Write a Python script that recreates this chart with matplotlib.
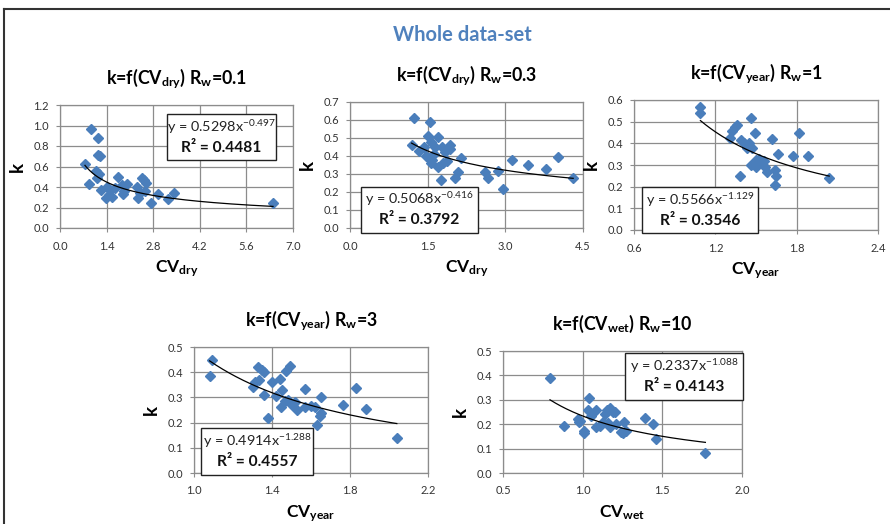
import matplotlib
matplotlib.use("Agg")
import matplotlib.pyplot as plt
import numpy as np
from matplotlib.patches import Rectangle
from matplotlib.lines import Line2D

plt.rcParams['font.family'] = ['Lato', 'DejaVu Sans']
plt.rcParams['mathtext.fontset'] = 'custom'
plt.rcParams['mathtext.rm'] = 'Lato'
plt.rcParams['mathtext.bf'] = 'Lato:bold'
plt.rcParams['mathtext.it'] = 'Lato:italic'
plt.rcParams['mathtext.sf'] = 'Lato'

# ---------------- data ----------------
suptitle = "Whole data-set"

# Panel 1: k = f(CV_dry), Rw = 0.1
x1 = [0.92, 1.15, 1.15, 1.19, 0.75, 0.87, 1.08, 1.18, 1.12, 1.22, 1.40, 1.37, 1.47, 1.55,
      1.50, 1.75, 1.66, 1.85, 1.90, 2.02, 1.92, 2.30, 2.35, 2.40, 2.45, 2.52, 2.58, 2.55,
      2.72, 2.94, 3.25, 3.43, 6.40]
y1 = [0.97, 0.88, 0.71, 0.70, 0.62, 0.43, 0.56, 0.53, 0.49, 0.37, 0.40, 0.29, 0.32, 0.30,
      0.37, 0.50, 0.39, 0.42, 0.33, 0.43, 0.36, 0.40, 0.29, 0.34, 0.49, 0.47, 0.44, 0.36,
      0.24, 0.33, 0.28, 0.34, 0.24]
a1, b1, r2_1 = 0.5298, -0.497, 0.4481

# Panel 2: k = f(CV_dry), Rw = 0.3
x2 = [1.24, 1.54, 1.19, 1.34, 1.43, 1.50, 1.57, 1.69, 1.64, 1.53, 1.59, 1.78, 1.83, 1.93,
      1.93, 1.70, 1.87, 1.76, 2.14, 2.03, 2.09, 2.60, 2.66, 2.86, 2.96, 3.12, 3.44, 3.79,
      4.02, 4.31, 1.62, 1.80, 1.57, 1.47]
y2 = [0.61, 0.59, 0.46, 0.43, 0.45, 0.51, 0.48, 0.505, 0.45, 0.39, 0.38, 0.45, 0.42, 0.46,
      0.44, 0.34, 0.37, 0.265, 0.39, 0.28, 0.31, 0.31, 0.275, 0.315, 0.215, 0.38, 0.35,
      0.325, 0.395, 0.28, 0.41, 0.36, 0.36, 0.40]
a2, b2, r2_2 = 0.5068, -0.416, 0.3792

# Panel 3: k = f(CV_year), Rw = 1
x3 = [1.09, 1.09, 1.46, 1.345, 1.36, 1.325, 1.49, 1.31, 1.39, 1.41, 1.45, 1.43, 1.47, 1.62,
      1.82, 1.38, 1.46, 1.50, 1.50, 1.54, 1.57, 1.58, 1.64, 1.65, 1.64, 1.66, 1.77, 1.88,
      2.04, 1.52, 1.56]
y3 = [0.57, 0.54, 0.515, 0.477, 0.485, 0.455, 0.446, 0.426, 0.415, 0.40, 0.40, 0.377, 0.377,
      0.418, 0.45, 0.249, 0.30, 0.323, 0.29, 0.31, 0.29, 0.27, 0.277, 0.25, 0.21, 0.35,
      0.34, 0.34, 0.24, 0.33, 0.32]
a3, b3, r2_3 = 0.5566, -1.129, 0.3546

# Panel 4: k = f(CV_year), Rw = 3
x4 = [1.09, 1.08, 1.30, 1.33, 1.35, 1.36, 1.335, 1.36, 1.38, 1.40, 1.42, 1.44, 1.45, 1.47,
      1.49, 1.445, 1.48, 1.50, 1.52, 1.53, 1.57, 1.57, 1.62, 1.65, 1.63, 1.645, 1.65, 1.765,
      1.83, 1.88, 2.04, 1.315, 1.465, 1.60]
y4 = [0.448, 0.385, 0.34, 0.42, 0.41, 0.40, 0.369, 0.31, 0.22, 0.362, 0.307, 0.372, 0.33,
      0.405, 0.426, 0.26, 0.29, 0.27, 0.28, 0.25, 0.333, 0.26, 0.26, 0.30, 0.19, 0.225, 0.24,
      0.27, 0.337, 0.254, 0.139, 0.36, 0.284, 0.265]
a4, b4, r2_4 = 0.4914, -1.288, 0.4557

# Panel 5: k = f(CV_wet), Rw = 10
x5 = [0.795, 0.883, 0.97, 0.985, 0.975, 1.01, 1.01, 1.04, 1.035, 1.05, 1.084, 1.11, 1.15,
      1.17, 1.19, 1.14, 1.17, 1.21, 1.255, 1.26, 1.24, 1.39, 1.44, 1.46, 1.77, 1.085, 1.13,
      1.20, 1.275, 1.16]
y5 = [0.388, 0.194, 0.22, 0.215, 0.21, 0.172, 0.163, 0.306, 0.258, 0.235, 0.258, 0.194,
      0.258, 0.265, 0.25, 0.24, 0.19, 0.20, 0.163, 0.21, 0.17, 0.224, 0.20, 0.14, 0.084,
      0.188, 0.21, 0.25, 0.174, 0.205]
a5, b5, r2_5 = 0.2337, -1.088, 0.4143

titles = [r"k=f(CV$_{\mathbf{dry}}$) R$_{\mathbf{w}}$=0.1",
          r"k=f(CV$_{\mathbf{dry}}$) R$_{\mathbf{w}}$=0.3",
          r"k=f(CV$_{\mathbf{year}}$) R$_{\mathbf{w}}$=1",
          r"k=f(CV$_{\mathbf{year}}$) R$_{\mathbf{w}}$=3",
          r"k=f(CV$_{\mathbf{wet}}$) R$_{\mathbf{w}}$=10"]
xlabels = [r"CV$_{\mathbf{dry}}$", r"CV$_{\mathbf{dry}}$", r"CV$_{\mathbf{year}}$",
           r"CV$_{\mathbf{year}}$", r"CV$_{\mathbf{wet}}$"]
xticks = [[0.0, 1.4, 2.8, 4.2, 5.6, 7.0],
          [0.0, 1.5, 3.0, 4.5],
          [0.6, 1.2, 1.8, 2.4],
          [1.0, 1.4, 1.8, 2.2],
          [0.5, 1.0, 1.5, 2.0]]
yticks = [[0.0, 0.2, 0.4, 0.6, 0.8, 1.0, 1.2],
          [0.0, 0.1, 0.2, 0.3, 0.4, 0.5, 0.6, 0.7],
          [0.0, 0.1, 0.2, 0.3, 0.4, 0.5, 0.6],
          [0.0, 0.1, 0.2, 0.3, 0.4, 0.5],
          [0.0, 0.1, 0.2, 0.3, 0.4, 0.5]]

# ---------------- layout ----------------
W, H = 890, 524
fig = plt.figure(figsize=(W / 100, H / 100), dpi=100)
fig.patch.set_facecolor('white')

# axes boxes in pixels: left, right, top, bottom
boxes = [(60, 293, 105, 228), (350, 583, 102, 228), (634, 878, 100, 230),
         (194, 428, 347, 473), (503, 742, 351, 473)]
# equation box in axes fraction: x0, x1, ybottom, ytop
eq_boxes = [(0.46, 0.927, 0.553, 0.927), (0.046, 0.548, -0.037, 0.328),
            (0.034, 0.51, -0.025, 0.328), (0.029, 0.51, -0.016, 0.355),
            (0.51, 1.005, 0.60, 0.98)]

data = [(x1, y1, a1, b1, r2_1), (x2, y2, a2, b2, r2_2), (x3, y3, a3, b3, r2_3),
        (x4, y4, a4, b4, r2_4), (x5, y5, a5, b5, r2_5)]

blue = '#4A7EBB'
grid_c = '#8C8C8C'

for i, ((l, r, t, b), (xs, ys, a, bb, r2)) in enumerate(zip(boxes, data)):
    ax = fig.add_axes([l / W, 1 - b / H, (r - l) / W, (b - t) / H])
    ax.set_xlim(xticks[i][0], xticks[i][-1])
    ax.set_ylim(yticks[i][0], yticks[i][-1])
    ax.set_xticks(xticks[i])
    ax.set_yticks(yticks[i])
    ax.set_xticklabels([f"{v:.1f}" for v in xticks[i]])
    ax.set_yticklabels([f"{v:.1f}" for v in yticks[i]])
    ax.grid(True, color=grid_c, lw=0.9)
    ax.set_axisbelow(True)
    for s in ax.spines.values():
        s.set_color(grid_c)
        s.set_linewidth(0.9)
    ax.tick_params(axis='both', direction='out', length=3, width=0.8, color=grid_c,
                   labelsize=8, labelcolor='#333333')
    ax.tick_params(axis='x', pad=6)
    ax.tick_params(axis='y', pad=5)
    ax.plot(xs, ys, linestyle='none', marker='D', ms=5.3, color=blue, mec=blue, zorder=3)
    xx = np.linspace(min(xs), max(xs), 200)
    ax.plot(xx, a * xx ** bb, color='black', lw=0.9, zorder=4)

    ax.set_title(titles[i], fontsize=12.8, fontweight='bold', pad=15)
    ax.set_xlabel(xlabels[i], fontsize=12.5, fontweight='bold', labelpad=5)
    ax.set_ylabel("k", fontsize=13.5, fontweight='bold', labelpad=5)

    ex0, ex1, ey0, ey1 = eq_boxes[i]
    rect = Rectangle((ex0, ey0), ex1 - ex0, ey1 - ey0, transform=ax.transAxes,
                     facecolor='white', edgecolor='#222222', lw=1.0, zorder=6, clip_on=False)
    ax.add_patch(rect)
    cx = (ex0 + ex1) / 2
    hh = ey1 - ey0
    ax.text(cx, ey0 + hh * 0.72, r"y = %.4fx$^{\mathregular{%s}}$" % (a, f"{bb:.3f}"),
            transform=ax.transAxes, ha='center', va='center', fontsize=10.4, zorder=7,
            color='#222222')
    ax.text(cx, ey0 + hh * 0.27, "R\u00b2 = %.4f" % r2, transform=ax.transAxes,
            ha='center', va='center', fontsize=11.2, fontweight='bold', zorder=7,
            color='#111111')

fig.text(462 / W, 1 - 35 / H, suptitle, ha='center', va='center', fontsize=14.5,
         fontweight='bold', color='#4F81BD')

# outer frame
fig.add_artist(Line2D([3.5 / W, 3.5 / W], [0, 1 - 9 / H], transform=fig.transFigure,
                      color='#333333', lw=1.5))
fig.add_artist(Line2D([3.5 / W, 1], [1 - 9 / H, 1 - 9 / H], transform=fig.transFigure,
                      color='#333333', lw=1.5))

fig.savefig("out.png", dpi=100)
